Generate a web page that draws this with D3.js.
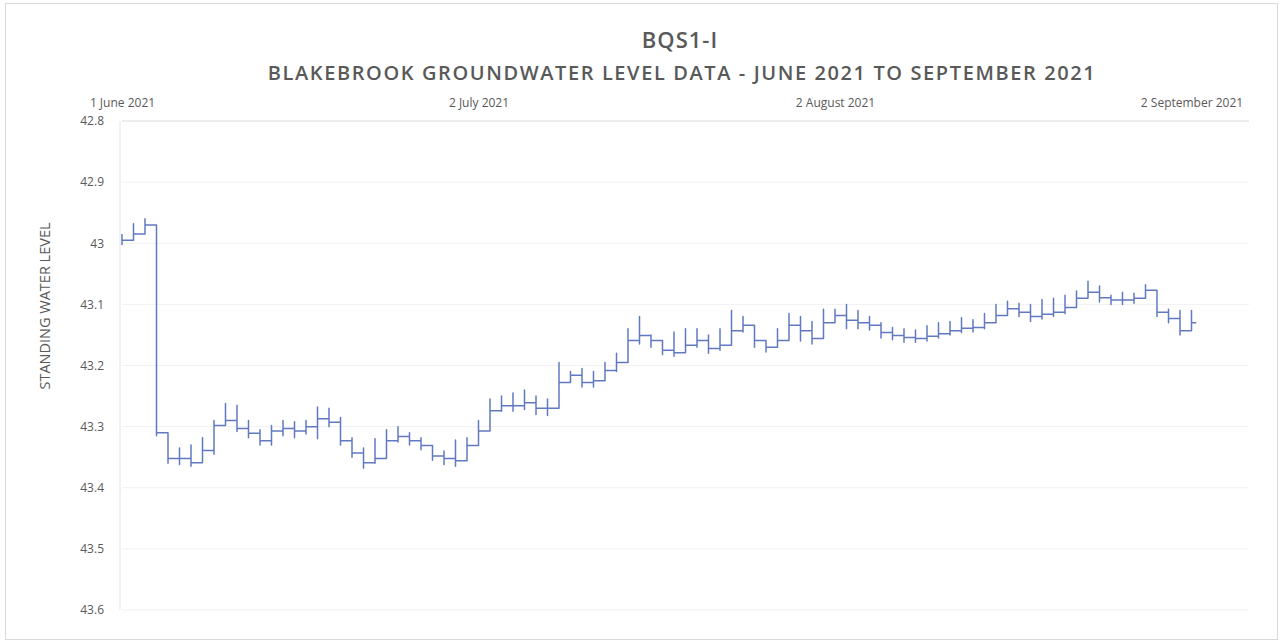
<!DOCTYPE html>
<html>
<head>
<meta charset="utf-8">
<script src="https://cdn.jsdelivr.net/npm/d3@7"></script>
<style>
  body { margin: 0; background: #fff; }
  text { font-family: "Open Sans", "Liberation Sans", sans-serif; }
</style>
</head>
<body>
<div id="chart"></div>
<script>
"use strict"
var width = 1280,
	height = 642;

// daily readings from 1 June 2021 (metres below datum)
var startDate = new Date(2021, 5, 1);
var level = [42.995,42.985,42.970,43.310,43.352,43.352,43.359,43.339,43.298,43.290,
	43.303,43.311,43.323,43.307,43.303,43.307,43.300,43.287,43.293,43.323,
	43.343,43.359,43.352,43.323,43.316,43.323,43.331,43.348,43.352,43.356,
	43.331,43.307,43.274,43.266,43.266,43.261,43.270,43.270,43.228,43.216,
	43.228,43.225,43.208,43.195,43.159,43.151,43.159,43.175,43.179,43.167,
	43.159,43.172,43.167,43.143,43.134,43.159,43.170,43.159,43.134,43.143,
	43.156,43.130,43.118,43.126,43.130,43.134,43.146,43.151,43.154,43.156,
	43.152,43.148,43.143,43.139,43.138,43.130,43.118,43.107,43.113,43.120,
	43.116,43.113,43.105,43.090,43.080,43.089,43.093,43.093,43.090,43.077,
	43.113,43.123,43.143,43.130];
var dailyHigh = [42.985,42.968,42.960,43.305,43.315,43.335,43.330,43.318,43.290,43.262,
	43.265,43.290,43.305,43.298,43.290,43.292,43.290,43.268,43.270,43.285,
	43.318,43.335,43.320,43.305,43.300,43.310,43.318,43.335,43.340,43.322,
	43.318,43.290,43.255,43.250,43.245,43.240,43.250,43.255,43.195,43.210,
	43.205,43.210,43.195,43.180,43.140,43.120,43.150,43.160,43.145,43.140,
	43.140,43.150,43.140,43.110,43.120,43.145,43.160,43.140,43.115,43.120,
	43.128,43.108,43.108,43.100,43.110,43.120,43.130,43.138,43.140,43.142,
	43.135,43.130,43.128,43.122,43.125,43.115,43.100,43.095,43.098,43.100,
	43.092,43.090,43.085,43.078,43.062,43.070,43.085,43.080,43.082,43.068,
	43.078,43.108,43.110,43.110];
var dailyLow = [43.002,42.995,42.978,43.315,43.360,43.362,43.365,43.348,43.345,43.298,
	43.308,43.318,43.330,43.330,43.315,43.318,43.312,43.320,43.300,43.330,
	43.350,43.368,43.360,43.330,43.325,43.330,43.338,43.355,43.362,43.365,
	43.340,43.318,43.285,43.275,43.275,43.272,43.280,43.282,43.240,43.225,
	43.235,43.235,43.218,43.210,43.170,43.165,43.170,43.182,43.185,43.178,
	43.170,43.180,43.175,43.150,43.145,43.170,43.178,43.165,43.145,43.160,
	43.165,43.140,43.125,43.140,43.140,43.142,43.155,43.158,43.162,43.162,
	43.160,43.155,43.150,43.146,43.145,43.140,43.126,43.115,43.120,43.128,
	43.124,43.120,43.115,43.100,43.088,43.096,43.100,43.100,43.098,43.090,
	43.120,43.130,43.150,43.138];
var lastHours = 10; // logger stops part way through the final day

var xTicks = [new Date(2021,5,1), new Date(2021,6,2), new Date(2021,7,2), new Date(2021,8,2)];
var yTicks = [42.8,42.9,43.0,43.1,43.2,43.3,43.4,43.5,43.6];

var svg = d3.select("#chart").append("svg")
	.attr("width",width)
	.attr("height",height);

svg.append("rect")
	.attr("x",5.5).attr("y",3.5)
	.attr("width",width-8).attr("height",height-6)
	.style("fill","none").style("stroke","#d9d9d9");

var pLeft = 122, pRight = 1249, pTop = 121, pBottom = 610;
var xscale = d3.scaleTime().domain([startDate, new Date(2021,8,7)]).range([pLeft,pRight]);
var yscale = d3.scaleLinear().domain([42.8,43.6]).range([pTop,pBottom]);

// gridlines
svg.append("g").selectAll("line").data(yTicks).join("line")
	.attr("x1",pLeft).attr("x2",pRight)
	.attr("y1",d=>yscale(d)).attr("y2",d=>yscale(d))
	.style("stroke",(d,i)=>i===0?"#d9d9d9":"#f1f1f1");
svg.append("line")
	.attr("x1",pLeft-2).attr("x2",pLeft-2).attr("y1",pTop).attr("y2",pBottom)
	.style("stroke","#e4e4e4");

var xaxis = svg.append("g").attr("transform","translate(0,"+pTop+")")
	.call(d3.axisTop(xscale).tickValues(xTicks).tickSize(0).tickPadding(14)
		.tickFormat(d3.timeFormat("%-d %B %Y")));
var yaxis = svg.append("g").attr("transform","translate("+(pLeft-2)+",0)")
	.call(d3.axisLeft(yscale).tickValues(yTicks).tickSize(0).tickPadding(16)
		.tickFormat(d=>String(+d.toFixed(1))));
[xaxis,yaxis].forEach(function(a){
	a.select(".domain").remove();
	a.selectAll("text").style("fill","#595959").style("font-size","12px");
});

// series: daily bar (high/low) then held level until next reading
var day = 864e5;
var pts = [];
level.forEach(function(v,i){
	var t = +startDate + i*day;
	if (i>0) pts.push([t, level[i-1]]);
	pts.push([t, dailyHigh[i]], [t, dailyLow[i]], [t, v]);
});
pts.push([+startDate + (level.length-1)*day + lastHours*36e5, level[level.length-1]]);

var line = d3.line().x(d=>xscale(d[0])).y(d=>yscale(d[1]));
svg.append("path")
	.attr("d",line(pts))
	.style("fill","none")
	.style("stroke","#6179c0")
	.style("stroke-width",1.5)
	.style("stroke-linejoin","round");

// titles
svg.append("text")
	.attr("x",680).attr("y",48)
	.attr("text-anchor","middle")
	.style("font-size","22px").style("font-weight","600")
	.style("fill","#595959").style("letter-spacing","1px")
	.text("BQS1-I");
svg.append("text")
	.attr("x",682).attr("y",80)
	.attr("text-anchor","middle")
	.style("font-size","20px").style("font-weight","600")
	.style("fill","#595959").style("letter-spacing","1.6px")
	.text("BLAKEBROOK GROUNDWATER LEVEL DATA - JUNE 2021 TO SEPTEMBER 2021");
svg.append("text")
	.attr("transform","translate(50,306) rotate(-90)")
	.attr("text-anchor","middle")
	.style("font-size","14.5px")
	.style("fill","#595959")
	.text("STANDING WATER LEVEL");
</script>
</body>
</html>
